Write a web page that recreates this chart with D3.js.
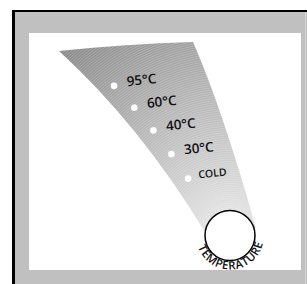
<!DOCTYPE html>
<html><head><meta charset="utf-8">
<script src="https://cdn.jsdelivr.net/npm/d3@7"></script>
<style>html,body{margin:0;padding:0;background:#fff;}svg{display:block;}</style>
</head><body>
<script>
// ---- data ----
const settings = ["95°C", "60°C", "40°C", "30°C", "COLD"];
const dialLabel = "TEMPERATURE";
const settingIndex = [0, 1, 2, 3, 4];

const W = 307, H = 284;
const svg = d3.select("body").append("svg").attr("width", W).attr("height", H);
const defs = svg.append("defs");

// frame
svg.append("rect").attr("x", 12).attr("y", 10).attr("width", W - 12).attr("height", H - 10).attr("fill", "#000");
svg.append("rect").attr("x", 15).attr("y", 12).attr("width", W - 15).attr("height", H - 12).attr("fill", "#c0c0c0");
svg.append("rect").attr("x", 305).attr("y", 12).attr("width", 1).attr("height", H - 12).attr("fill", "#d4d4d4");
svg.append("rect").attr("x", 29).attr("y", 33).attr("width", 272).attr("height", 237).attr("fill", "#fff");

// dial
const dial = {cx: 230, cy: 235.5, r: 25};

// fan shape
const fan = d3.path();
fan.moveTo(59, 51);
fan.quadraticCurveTo(126, 44, 193, 42);
fan.quadraticCurveTo(222, 108, 256, 228);
fan.lineTo(dial.cx, dial.cy);
fan.lineTo(205, 232);
fan.quadraticCurveTo(140, 125, 59, 51);
fan.closePath();

const grad = defs.append("radialGradient").attr("id", "fanGrad")
  .attr("gradientUnits", "userSpaceOnUse")
  .attr("cx", dial.cx).attr("cy", dial.cy).attr("r", 255);
grad.append("stop").attr("offset", 0.1).attr("stop-color", "#e2e2e2");
grad.append("stop").attr("offset", 0.3).attr("stop-color", "#cdcdcd");
grad.append("stop").attr("offset", 0.7).attr("stop-color", "#a6a6a6");
grad.append("stop").attr("offset", 1).attr("stop-color", "#878787");

defs.append("clipPath").attr("id", "fanClip").append("path").attr("d", fan.toString());

svg.append("path").attr("d", fan.toString()).attr("fill", "url(#fanGrad)");

// fine concentric stripes
const rings = d3.range(28, 262, 2.2);
svg.append("g").attr("clip-path", "url(#fanClip)")
  .selectAll("circle").data(rings).join("circle")
  .attr("cx", dial.cx).attr("cy", dial.cy).attr("r", d => d)
  .attr("fill", "none").attr("stroke", "#fff").attr("stroke-opacity", 0.3).attr("stroke-width", 0.8);

// setting positions along a gentle arc
const arcCenter = {x: -318.7, y: 507.8}, arcR = 604.4;
const ang = d3.scaleLinear().domain([0, settings.length - 1]).range([-44.27, -33.0]);
const pos = i => {
  const a = ang(i) * Math.PI / 180;
  return [arcCenter.x + arcR * Math.cos(a), arcCenter.y + arcR * Math.sin(a)];
};

const FONT = "Open Sans, Liberation Sans, Arial, sans-serif";
const g = svg.append("g");
const items = g.selectAll("g.item").data(settingIndex).join("g").attr("class", "item")
  .attr("transform", i => { const p = pos(i); return `translate(${p[0]},${p[1]}) rotate(-6)`; });
items.append("circle").attr("r", 3.3).attr("fill", "#fff");
items.append("text")
  .attr("x", i => settings[i] === "COLD" ? 10.5 : 13)
  .attr("y", -2)
  .attr("dominant-baseline", "middle")
  .attr("font-family", FONT)
  .attr("font-weight", 600)
  .attr("font-size", i => settings[i] === "COLD" ? 10.5 : 13.5)
  .attr("fill", "#111")
  .text(i => settings[i]);

// dial circle
svg.append("circle").attr("cx", dial.cx).attr("cy", dial.cy).attr("r", dial.r)
  .attr("fill", "#fff").attr("stroke", "#000").attr("stroke-width", 1.5);

// curved label
const tr = 34;
defs.append("path").attr("id", "dialPath")
  .attr("d", `M${dial.cx - tr},${dial.cy} A${tr},${tr} 0 0 0 ${dial.cx + tr},${dial.cy}`);
svg.append("text")
  .attr("font-family", FONT)
  .attr("font-size", 11.5).attr("font-weight", 600).attr("fill", "#111")
  .attr("letter-spacing", 0.6)
  .append("textPath").attr("href", "#dialPath")
  .attr("startOffset", "52%").attr("text-anchor", "middle")
  .text(dialLabel);
</script>
</body></html>
